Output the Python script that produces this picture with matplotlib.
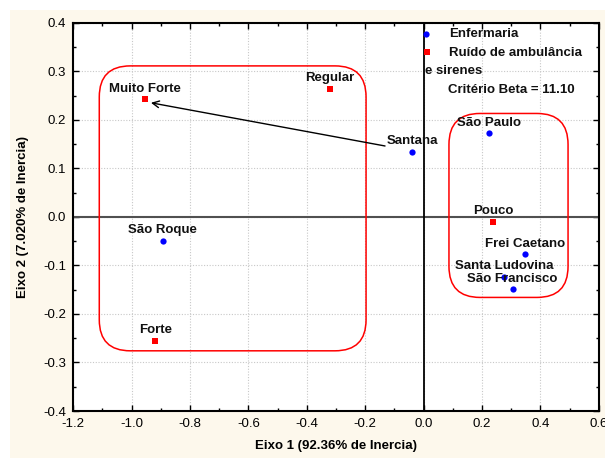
import matplotlib
matplotlib.use("Agg")
import matplotlib.pyplot as plt
from matplotlib.patches import FancyBboxPatch, Rectangle
from matplotlib.ticker import MultipleLocator, FormatStrFormatter

# ---- data ----
enf_names = ["Santana", "São Paulo", "São Roque", "Frei Caetano", "Santa Ludovina", "São Francisco"]
enf_x = [-0.039, 0.223, -0.894, 0.347, 0.276, 0.305]
enf_y = [0.134, 0.172, -0.050, -0.077, -0.123, -0.149]

rui_names = ["Muito Forte", "Regular", "Forte", "Pouco"]
rui_x = [-0.955, -0.320, -0.919, 0.239]
rui_y = [0.242, 0.264, -0.256, -0.010]

# cluster boxes: (x_min, y_min, x_max, y_max)
box_left = (-1.111, -0.276, -0.197, 0.311)
box_right = (0.087, -0.166, 0.495, 0.213)

# arrow from Santana region to Muito Forte
arrow_tail = (-0.132, 0.146)
arrow_head = (-0.934, 0.235)

x_ticks = [-1.2, -1.0, -0.8, -0.6, -0.4, -0.2, 0.0, 0.2, 0.4, 0.6]
y_ticks = [-0.4, -0.3, -0.2, -0.1, 0.0, 0.1, 0.2, 0.3, 0.4]

legend_labels = ["Enfermaria", "Ruído de ambulância", "e sirenes", "Critério Beta = 11.10"]
xlabel = "Eixo 1 (92.36% de Inercia)"
ylabel = "Eixo 2 (7.020% de Inercia)"

plt.rcParams['font.family'] = ['Liberation Sans', 'DejaVu Sans']
FS = 9.5

W, H = 605, 458
fig = plt.figure(figsize=(W / 100, H / 100), dpi=100, facecolor="white")
# cream background
fig.patches.append(Rectangle((10 / W, 0), 1, 1 - 10 / H, transform=fig.transFigure,
                             facecolor="#FDF8EC", edgecolor="none", zorder=-10))

ax_l, ax_r, ax_t, ax_b = 73.3, 598.7, 22.7, 411.0
ax = fig.add_axes([ax_l / W, 1 - ax_b / H, (ax_r - ax_l) / W, (ax_b - ax_t) / H])
ax.set_facecolor("white")
ax.set_xlim(x_ticks[0], x_ticks[-1])
ax.set_ylim(y_ticks[0], y_ticks[-1])
ax.set_xticks(x_ticks)
ax.set_yticks(y_ticks)
ax.xaxis.set_major_formatter(FormatStrFormatter("%.1f"))
ax.yaxis.set_major_formatter(FormatStrFormatter("%.1f"))
ax.xaxis.set_minor_locator(MultipleLocator(0.1))
ax.yaxis.set_minor_locator(MultipleLocator(0.05))
ax.tick_params(which="both", direction="in", top=True, right=True, color="black")
ax.tick_params(which="major", length=4, width=1.0, labelsize=FS, pad=5)
ax.tick_params(which="minor", length=2.5, width=1.0)
for s in ax.spines.values():
    s.set_linewidth(1.5)
    s.set_color("black")

ax.grid(True, which="major", linestyle=(0, (1, 1.5)), color="#C8C8C8", linewidth=0.8)
ax.set_axisbelow(True)

ax.axhline(0, color="#505050", linewidth=1.5, zorder=2)
ax.axvline(0, color="black", linewidth=1.3, zorder=2)

# rounded boxes with circular corners in pixel space
ppu_x = (ax_r - ax_l) / (x_ticks[-1] - x_ticks[0])
ppu_y = (ax_b - ax_t) / (y_ticks[-1] - y_ticks[0])
aspect = ppu_x / ppu_y
r_px = 31
for b in (box_left, box_right):
    x0, y0, x1, y1 = b
    p = FancyBboxPatch((x0, y0), x1 - x0, y1 - y0,
                       boxstyle="round,pad=0,rounding_size=%f" % (r_px / ppu_x),
                       mutation_aspect=aspect, facecolor="none",
                       edgecolor="#FF0000", linewidth=1.1, zorder=3)
    ax.add_patch(p)

# arrow
ax.annotate("", xy=arrow_head, xytext=arrow_tail,
            arrowprops=dict(arrowstyle="->", color="black", lw=1.0,
                            shrinkA=0, shrinkB=0, mutation_scale=12), zorder=4)

# points
ax.plot(enf_x, enf_y, linestyle="none", marker="o", markersize=4.5,
        color="#0000FF", markeredgewidth=0, zorder=5, clip_on=False)
ax.plot(rui_x, rui_y, linestyle="none", marker="s", markersize=4.5,
        color="#FF0000", markeredgewidth=0, zorder=5, clip_on=False)

for n, x, y in zip(enf_names + rui_names, enf_x + rui_x, enf_y + rui_y):
    ax.annotate(n, (x, y), xytext=(0, 5.5), textcoords="offset points",
                ha="center", va="baseline", fontsize=FS, fontweight="bold",
                color="#111111", zorder=6)

# legend (manual)
ax.plot([0.671], [0.970], transform=ax.transAxes, marker="o", markersize=4.5,
        color="#0000FF", markeredgewidth=0, linestyle="none", clip_on=False)
ax.plot([0.673], [0.9245], transform=ax.transAxes, marker="s", markersize=4.5,
        color="#FF0000", markeredgewidth=0, linestyle="none", clip_on=False)
ax.text(0.716, 0.970, legend_labels[0], transform=ax.transAxes, ha="left", va="center",
        fontsize=FS, fontweight="bold", color="#111111")
ax.text(0.716, 0.922, legend_labels[1], transform=ax.transAxes, ha="left", va="center",
        fontsize=FS, fontweight="bold", color="#111111")
ax.text(0.669, 0.876, legend_labels[2], transform=ax.transAxes, ha="left", va="center",
        fontsize=FS, fontweight="bold", color="#111111")
ax.text(0.714, 0.827, legend_labels[3], transform=ax.transAxes, ha="left", va="center",
        fontsize=FS, fontweight="bold", color="#111111")

ax.set_xlabel(xlabel, fontsize=FS, fontweight="bold")
ax.set_ylabel(ylabel, fontsize=FS, fontweight="bold")
ax.xaxis.set_label_coords(0.5, -0.090)
ax.xaxis.label.set_va("center")
ax.yaxis.set_label_coords(-0.0957, 0.5)
ax.yaxis.label.set_va("center")

fig.savefig("out.png", dpi=100, facecolor=fig.get_facecolor())
